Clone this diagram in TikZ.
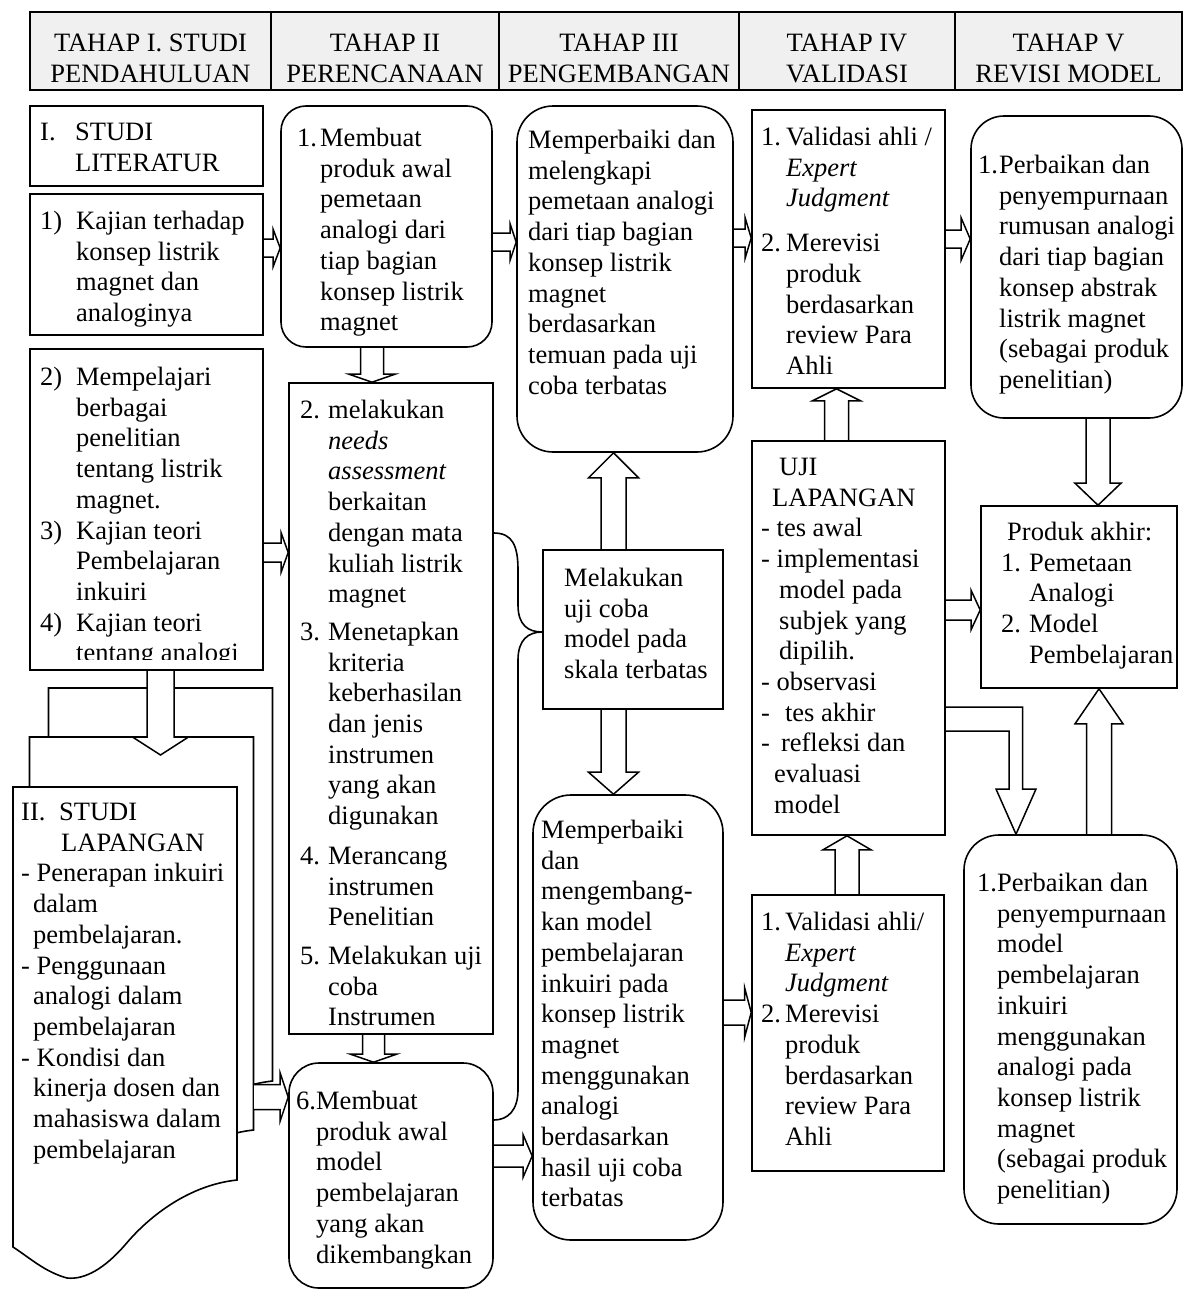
\documentclass[tikz,border=0pt]{standalone}
\usepackage{fontspec}
\setmainfont{Liberation Serif}
\usetikzlibrary{calc,fit}
\pgfdeclarelayer{back}
\pgfdeclarelayer{bg}
\pgfsetlayers{back,bg,main}

\newcommand\ltab[2]{\begin{tabular}[t]{@{}p{#1}@{}l@{}}#2\end{tabular}}
\newcommand\otab[1]{\begin{tabular}[t]{@{}l@{}}#1\end{tabular}}
\newcommand\ctab[1]{\begin{tabular}[t]{@{}c@{}}#1\end{tabular}}

% block arrows: start, tip, half shaft, half head, head length
\newcommand\arR[5]{\draw[barrow] let \p1=#1, \p2=#2 in
  (\x1,\y1+#3pt) -- (\x2-#5pt,\y1+#3pt) -- (\x2-#5pt,\y1+#4pt) -- (\x2,\y1)
  -- (\x2-#5pt,\y1-#4pt) -- (\x2-#5pt,\y1-#3pt) -- (\x1,\y1-#3pt);}
\newcommand\arD[5]{\draw[barrow] let \p1=#1, \p2=#2 in
  (\x1-#3pt,\y1) -- (\x1-#3pt,\y2+#5pt) -- (\x1-#4pt,\y2+#5pt) -- (\x1,\y2)
  -- (\x1+#4pt,\y2+#5pt) -- (\x1+#3pt,\y2+#5pt) -- (\x1+#3pt,\y1);}
\newcommand\arU[5]{\draw[barrow] let \p1=#1, \p2=#2 in
  (\x1-#3pt,\y1) -- (\x1-#3pt,\y2-#5pt) -- (\x1-#4pt,\y2-#5pt) -- (\x1,\y2)
  -- (\x1+#4pt,\y2-#5pt) -- (\x1+#3pt,\y2-#5pt) -- (\x1+#3pt,\y1);}

\tikzset{
  bx/.style={draw, line width=1.6pt, fill=white, inner sep=0pt},
  rbx/.style={bx, rounded corners=#1},
  hdr/.style={draw, line width=1.6pt, fill=black!6, inner sep=0pt},
  barrow/.style={draw, line width=1.5pt, fill=white, line join=miter},
  wire/.style={draw, line width=1.6pt},
  docs/.style={draw, line width=1.6pt, fill=white},
  txt/.style={inner sep=0pt, font=\fontsize{26.5}{30.7}\selectfont, anchor=base west},
}

\begin{document}
\begin{tikzpicture}[x=1pt, y=-1pt]
\useasboundingbox (0,0) rectangle (1183,1290);
\begin{pgfonlayer}{back}
  \fill[white] (0,0) rectangle (1183,1290);
  % multi-document shape (three stacked sheets)
  \foreach \dx/\dy in {35.5/-99, 16.5/-50, 0/0}
    \draw[docs, shift={(\dx,\dy)}] (13,787) -- (237,787) -- (237,1180)
      .. controls (190,1185) and (150,1215) .. (125,1245)
      .. controls (105,1268) and (85,1280) .. (67,1278)
      .. controls (45,1272) and (30,1258) .. (13,1247) -- cycle;
\end{pgfonlayer}

% ---------- header ----------
\node[hdr, fit={(30,12) (271,90)}] (h1) {};
\node[hdr, fit={(271,12) (499,90)}] (h2) {};
\node[hdr, fit={(499,12) (739,90)}] (h3) {};
\node[hdr, fit={(739,12) (955,90)}] (h4) {};
\node[hdr, fit={(955,12) (1182,90)}] (h5) {};
\node[txt, anchor=base] (h1t) at (150.5,52) {\ctab{TAHAP I. STUDI\\PENDAHULUAN}};
\node[txt, anchor=base] (h2t) at (385,52) {\ctab{TAHAP II\\PERENCANAAN}};
\node[txt, anchor=base] (h3t) at (619,52) {\ctab{TAHAP III\\PENGEMBANGAN}};
\node[txt, anchor=base] (h4t) at (847,52) {\ctab{TAHAP IV\\VALIDASI}};
\node[txt, anchor=base] (h5t) at (1068.5,52) {\ctab{TAHAP V\\REVISI MODEL}};

% ---------- boxes ----------
\node[bx, fit={(30,106) (263,186)}] (A) {};
\node[bx, fit={(30,194) (263,335)}] (B) {};
\node[bx, fit={(30,349) (263,670)}] (C) {};
\node[rbx=25pt, fit={(281,106) (492,347)}] (E) {};
\node[bx, fit={(289,383) (493,1034)}] (D) {};
\node[rbx=30pt, fit={(289,1063) (493,1288)}] (O) {};
\node[rbx=36pt, fit={(517,106) (733,452)}] (F) {};
\node[bx, fit={(543,550) (723,709)}] (J) {};
\node[rbx=38pt, fit={(533,795) (723,1240)}] (K) {};
\node[bx, fit={(752,110) (945,388)}] (G) {};
\node[bx, fit={(752,441) (945,835)}] (L) {};
\node[bx, fit={(752,895) (944,1171)}] (N) {};
\node[rbx=33pt, fit={(971,116) (1182,418)}] (H) {};
\node[bx, fit={(981,506) (1177,688)}] (I) {};
\node[rbx=35pt, fit={(964,835) (1177,1224)}] (M) {};
\coordinate (md) at (254,1097);
\coordinate (mdt) at (160.5,755);

% ---------- connectors ----------
\begin{pgfonlayer}{bg}
  \arR{(B.east |- 0,248)}{(E.west |- 0,248)}{9}{18.5}{7}
  \arR{(E.east |- 0,242)}{(F.west |- 0,242)}{9}{18}{6}
  \arR{(F.east |- 0,238)}{(G.west |- 0,238)}{9}{20}{6}
  \arR{(G.east |- 0,239)}{(H.west |- 0,239)}{9}{21}{9}
  \arR{(C.east |- 0,552.5)}{(D.west |- 0,552.5)}{9.5}{19.5}{7}
  \arD{(E.south -| 372,0)}{(D.north -| 372,0)}{11.5}{23}{8}
  \arD{(D.south -| 373.5,0)}{(O.north -| 373.5,0)}{11}{23}{8}
  \arR{(md)}{(O.west |- md)}{12.5}{24}{8}
  \arR{(O.east |- 0,1156)}{(K.west |- 0,1156)}{11}{21}{9}
  \arU{(J.north -| 613.5,0)}{(F.south -| 613.5,0)}{12.5}{25}{25}
  \arD{(J.south -| 613.5,0)}{(K.north -| 613.5,0)}{12.5}{25}{22}
  \arR{(K.east |- 0,1012.5)}{(N.west |- 0,1012.5)}{12.5}{24.5}{6.5}
  \arU{(N.north -| 847,0)}{(L.south -| 847,0)}{12}{24}{14}
  \arU{(L.north -| 836.5,0)}{(G.south -| 836.5,0)}{12}{24}{12}
  \arR{(L.east |- 0,610)}{(I.west |- 0,610)}{10}{19.5}{9}
  \draw[barrow] (L.east |- 0,707) -- (1022.7,707) -- (1022.7,789) -- (1036,789)
    -- (M.north -| 1016,0) -- (996,789) -- (1009,789) -- (1009,731) -- (L.east |- 0,731);
  \arU{(M.north -| 1099,0)}{(I.south -| 1099,0)}{12.5}{24}{35}
  \arD{(H.south -| 1098,0)}{(I.north -| 1098,0)}{12}{23}{22}
  \arD{(C.south -| 160.5,0)}{(mdt)}{13.5}{28}{18}
  % brace-like connector
  \draw[wire] (D.east |- 0,533) .. controls (512,533) and (518,545) .. (518,570)
    -- (518,605) .. controls (518,625) and (528,632) .. (J.west |- 0,632)
    .. controls (528,632) and (518,640) .. (518,660) -- (518,1090)
    .. controls (518,1110) and (508,1120) .. (O.east |- 0,1120);
\end{pgfonlayer}

% ---------- texts ----------
\node[txt] (At) at (40,140.5) {\ltab{35pt}{I.&STUDI\\&LITERATUR}};
\node[txt] (Bt) at (40,229.5) {\ltab{36pt}{1)&Kajian terhadap\\&konsep listrik\\&magnet dan\\&analoginya}};
\begin{scope}
  \clip (30,349) rectangle (263,659);
  \node[txt] (Ct) at (40,385.5) {\ltab{36pt}{2)&Mempelajari\\&berbagai\\&penelitian\\&tentang listrik\\&magnet.\\3)&Kajian teori\\&Pembelajaran\\&inkuiri\\4)&Kajian teori\\&tentang analogi}};
\end{scope}
\begin{scope}
  \clip (281,106) rectangle (492,336);
  \node[txt] (Et) at (297,146.5) {\ltab{23pt}{1.&Membuat\\&produk awal\\&pemetaan\\&analogi dari\\&tiap bagian\\&konsep listrik\\&magnet}};
\end{scope}
\node[txt] (Ft) at (528,148.5) {\otab{Memperbaiki dan\\melengkapi\\pemetaan analogi\\dari tiap bagian\\konsep listrik\\magnet\\berdasarkan\\temuan pada uji\\coba terbatas}};
\node[txt] (Gt) at (761,145.5) {\ltab{25pt}{1.&Validasi ahli /\\&\textit{Expert}\\&\textit{Judgment}\\[14pt]2.&Merevisi\\&produk\\&berdasarkan\\&review Para\\&Ahli}};
\node[txt] (Ht) at (978,173.5) {\ltab{21pt}{1.&Perbaikan dan\\&penyempurnaan\\&rumusan analogi\\&dari tiap bagian\\&konsep abstrak\\&listrik magnet\\&(sebagai produk\\&penelitian)}};
\node[txt] (Dt) at (300,418.5) {\ltab{28pt}{2.&melakukan\\&\textit{needs}\\&\textit{assessment}\\&berkaitan\\&dengan mata\\&kuliah listrik\\&magnet\\[7pt]3.&Menetapkan\\&kriteria\\&keberhasilan\\&dan jenis\\&instrumen\\&yang akan\\&digunakan\\[9pt]4.&Merancang\\&instrumen\\&Penelitian\\[8pt]5.&Melakukan uji\\&coba\\&Instrumen}};
\node[txt] (Jt) at (564,586.5) {\otab{Melakukan\\uji coba\\model pada\\skala terbatas}};
\node[txt] (Lt) at (761,475.5) {\otab{\hspace*{18pt}UJI\\\hspace*{11pt}LAPANGAN\\- tes awal\\- implementasi\\\hspace*{18pt}model pada\\\hspace*{18pt}subjek yang\\\hspace*{18pt}dipilih.\\- observasi\\-\hspace{15pt}tes akhir\\-\hspace{11pt}refleksi dan\\\hspace*{13pt}evaluasi\\\hspace*{13pt}model}};
\node[txt] (It) at (1001,540.5) {\ltab{28pt}{\multicolumn{2}{@{\hspace{6pt}}l@{}}{Produk akhir:}\\1.&Pemetaan\\&Analogi\\2.&Model\\&Pembelajaran}};
\node[txt] (Mt) at (977,891.5) {\ltab{20pt}{1.&Perbaikan dan\\&penyempurnaan\\&model\\&pembelajaran\\&inkuiri\\&menggunakan\\&analogi pada\\&konsep listrik\\&magnet\\&(sebagai produk\\&penelitian)}};
\node[txt] (Nt) at (761,930.5) {\ltab{24pt}{1.&Validasi ahli/\\&\textit{Expert}\\&\textit{Judgment}\\2.&Merevisi\\&produk\\&berdasarkan\\&review Para\\&Ahli}};
\node[txt] (Kt) at (541,838.5) {\otab{Memperbaiki\\dan\\mengembang-\\kan model\\pembelajaran\\inkuiri pada\\konsep listrik\\magnet\\menggunakan\\analogi\\berdasarkan\\hasil uji coba\\terbatas}};
\node[txt] (Ot) at (296,1109.5) {\ltab{20pt}{6.&Membuat\\&produk awal\\&model\\&pembelajaran\\&yang akan\\&dikembangkan}};
\node[txt] (Pt) at (21,820.5) {\otab{\makebox[38pt][l]{II.}STUDI\\\hspace*{40pt}LAPANGAN\\- Penerapan inkuiri\\\hspace*{12pt}dalam\\\hspace*{12pt}pembelajaran.\\- Penggunaan\\\hspace*{12pt}analogi dalam\\\hspace*{12pt}pembelajaran\\- Kondisi dan\\\hspace*{12pt}kinerja dosen dan\\\hspace*{12pt}mahasiswa dalam\\\hspace*{12pt}pembelajaran}};
\end{tikzpicture}
\end{document}
